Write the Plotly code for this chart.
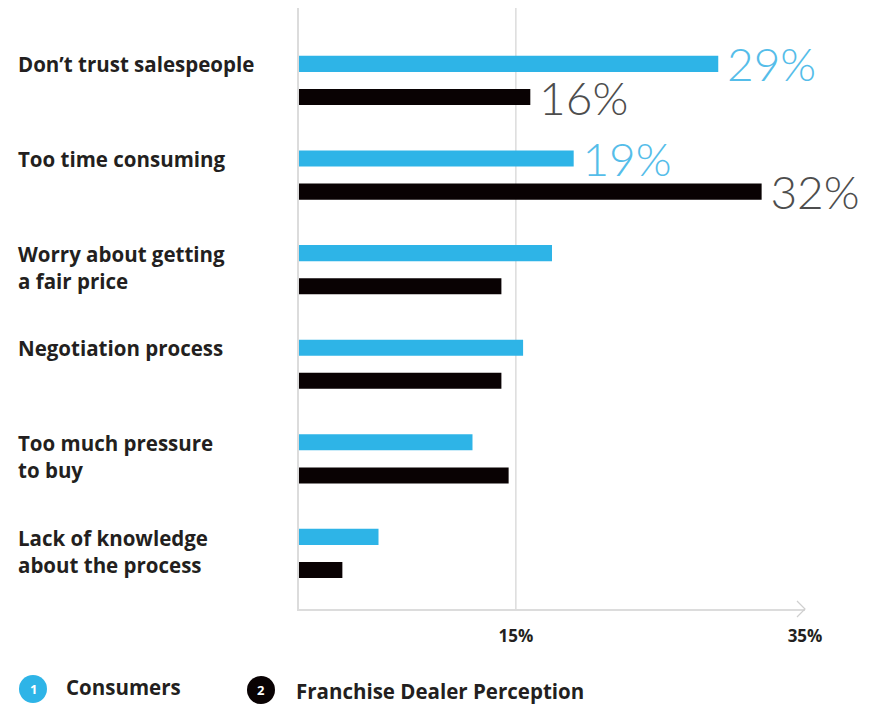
import plotly.graph_objects as go

# Survey data: reasons buyers dislike the dealership visit
reasons = [
    "Don’t trust salespeople",
    "Too time consuming",
    "Worry about getting<br>a fair price",
    "Negotiation process",
    "Too much pressure<br>to buy",
    "Lack of knowledge<br>about the process",
]
consumers = [29, 19, 17.5, 15.5, 12, 5.5]
dealers = [16, 32, 14, 14, 14.5, 3]
consumer_labels = ["29%", "19%", "", "", "", ""]
dealer_labels = ["16%", "32%", "", "", "", ""]
tick_values = [15, 35]
tick_labels = ["15%", "35%"]
series_names = ["Consumers", "Franchise Dealer Perception"]

BLUE = "#2eb4e7"
BLACK = "#090203"
BLUE_TXT = "#55bde9"
GRAY_TXT = "#4d4d4d"
LABEL = "#231f20"
LINE = "#dcdcdc"
SANS = "'Open Sans', Lato, sans-serif"

W, H = 871, 706
ML, MR, MT, MB = 299, 66, 8, 97
PW, PH = W - ML - MR, H - MT - MB


def px_x(p):
    return (p - ML) / PW


def px_y(p):
    return (H - MB - p) / PH


pos = list(range(len(reasons)))


def value_text(labels):
    return [("\u2009" + t) if t else "" for t in labels]


fig = go.Figure()
fig.add_trace(go.Bar(
    name=series_names[0], y=pos, x=consumers, orientation="h",
    marker=dict(color=BLUE, line=dict(width=0)),
    text=value_text(consumer_labels), textposition="outside",
    textfont=dict(family="Lato, 'Open Sans', sans-serif", size=46, color=BLUE_TXT, weight=300),
    cliponaxis=False, constraintext="none", hoverinfo="skip",
))
fig.add_trace(go.Bar(
    name=series_names[1], y=pos, x=dealers, orientation="h",
    marker=dict(color=BLACK, line=dict(width=0)),
    text=value_text(dealer_labels), textposition="outside",
    textfont=dict(family="Lato, 'Open Sans', sans-serif", size=46, color=GRAY_TXT, weight=300),
    cliponaxis=False, constraintext="none", hoverinfo="skip",
))

annotations = []
# category labels, left aligned in the margin
for i, r in enumerate(reasons):
    yv = i - 0.02 if "<br>" in r else i - 0.174
    annotations.append(dict(
        x=px_x(16), xref="paper", xanchor="left", y=yv, yref="y", yanchor="middle",
        text=r, align="left", showarrow=False,
        font=dict(family=SANS, size=20.5, color=LABEL, weight="bold"),
    ))

# numbered legend
legend_items = [(33, 689, 64, 687, BLUE), (261, 690, 294, 691, BLACK)]
shapes = []
for k, (cx, cy, tx, ty, col) in enumerate(legend_items):
    r = 14
    shapes.append(dict(type="circle", xref="paper", yref="paper",
                       x0=px_x(cx - r), x1=px_x(cx + r), y0=px_y(cy + r), y1=px_y(cy - r),
                       fillcolor=col, line=dict(width=0)))
    annotations.append(dict(x=px_x(cx), y=px_y(cy), xref="paper", yref="paper",
                            text=str(k + 1), showarrow=False, xanchor="center", yanchor="middle",
                            font=dict(family=SANS, size=13, color="white", weight="bold")))
    annotations.append(dict(x=px_x(tx), y=px_y(ty), xref="paper", yref="paper",
                            text=series_names[k], showarrow=False, xanchor="left", yanchor="middle",
                            font=dict(family=SANS, size=20.5, color=LABEL, weight="bold")))

# gridline at the first tick
shapes.append(dict(type="line", xref="x", yref="paper", x0=tick_values[0], x1=tick_values[0],
                   y0=0, y1=1, line=dict(color=LINE, width=1.5), layer="below"))
# arrow head at the end of the value axis
shapes.append(dict(type="path", xref="paper", yref="paper",
                   path=f"M {px_x(W - MR - 8)} {px_y(H - MB - 8)} L {px_x(W - MR)} {px_y(H - MB)} "
                        f"L {px_x(W - MR - 8)} {px_y(H - MB + 8)}",
                   line=dict(color="#cfcfcf", width=1.2)))

fig.update_layout(
    width=W, height=H,
    margin=dict(l=ML, r=MR, t=MT, b=MB),
    paper_bgcolor="white", plot_bgcolor="white",
    barmode="group", bargap=0.3, bargroupgap=0.514,
    showlegend=False,
    annotations=annotations, shapes=shapes,
    xaxis=dict(range=[0, 35], tickvals=tick_values, ticktext=tick_labels,
               showgrid=False, zeroline=False, showline=True, linecolor=LINE, linewidth=1.5,
               ticks="", ticklabelstandoff=11,
               tickfont=dict(family=SANS, size=17, color=LABEL, weight="bold")),
    yaxis=dict(range=[5.587, -0.766], showticklabels=False, showgrid=False, zeroline=False,
               showline=True, linecolor=LINE, linewidth=1.5, ticks=""),
)

fig.write_html("out.html")
